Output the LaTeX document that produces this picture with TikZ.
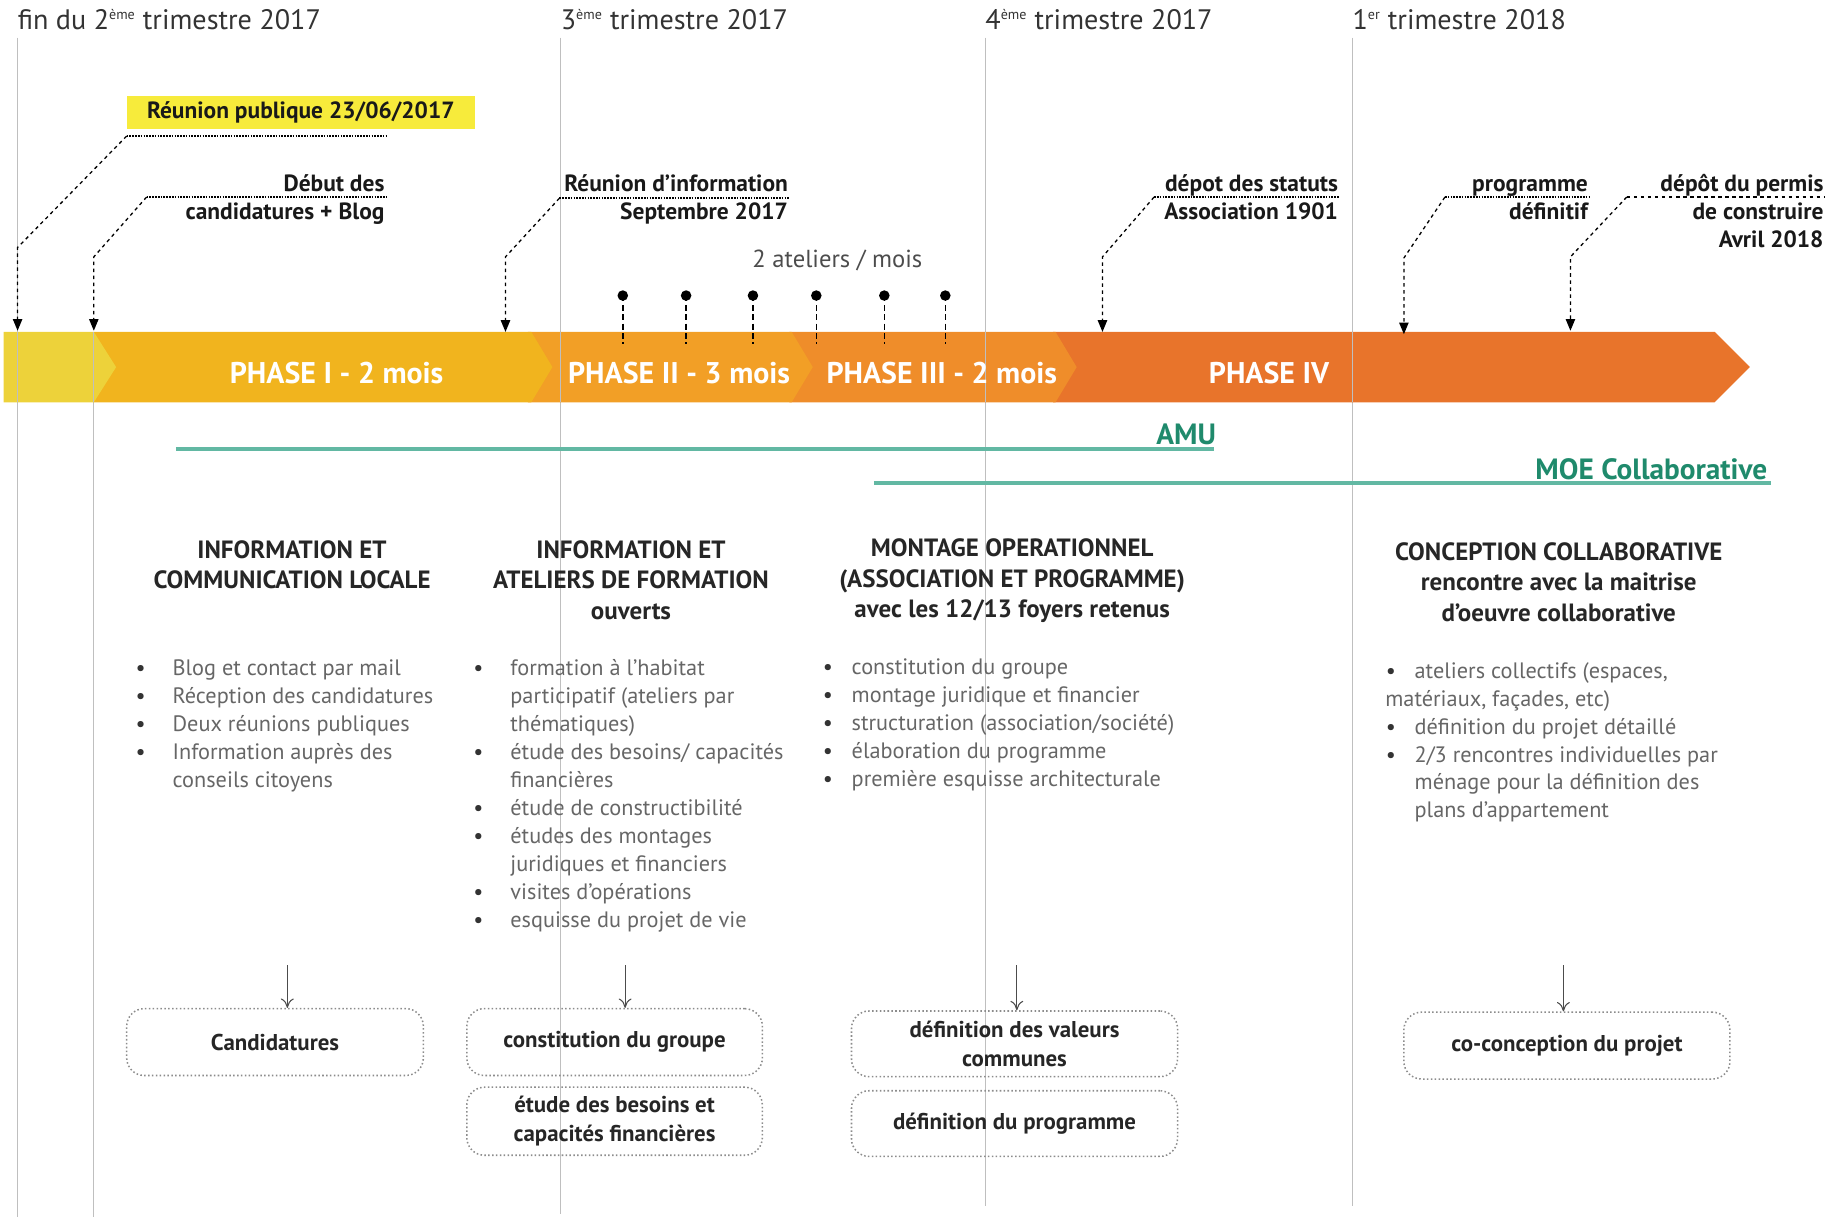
\documentclass[tikz,border=0pt]{standalone}
\usepackage{fontspec}
\setmainfont{PT Sans}
\usetikzlibrary{arrows.meta}
\definecolor{segA}{HTML}{EDD23A}
\definecolor{segB}{HTML}{F1B41E}
\definecolor{segC}{HTML}{F29F26}
\definecolor{segD}{HTML}{EF8D2A}
\definecolor{segE}{HTML}{E8742B}
\definecolor{hiyel}{HTML}{F7EB3B}
\definecolor{teal1}{HTML}{62B8A3}
\definecolor{teal2}{HTML}{1F8A6C}
\definecolor{bodygray}{HTML}{666666}
\newcommand\mysups[1]{\textsuperscript{\fontsize{12}{12}\selectfont #1}}
\begin{document}
\begin{tikzpicture}[x=1pt,y=-1pt,
  qline/.style={draw=black!25, line width=0.7pt},
  toplabel/.style={anchor=base west, font=\fontsize{24}{28}\selectfont, text=black!80, inner sep=0},
  evtxt/.style={anchor=north east, align=right, font=\bfseries\fontsize{20}{24}\selectfont, text=black!90, inner sep=0},
  under/.style={densely dotted, line width=1.4pt},
  callout/.style={dashed, line width=1.1pt, -{Triangle[width=8pt,length=10pt]}},
  phase/.style={text=white, font=\bfseries\fontsize{25.5}{28}\selectfont, inner sep=0},
  head/.style={align=center, font=\bfseries\fontsize{21.3}{26}\selectfont, text=black!85, anchor=north, inner sep=0},
  bul/.style={align=left, font=\fontsize{19}{23.8}\selectfont, text=bodygray, anchor=north west, inner sep=0},
  bulc/.style={align=center, font=\fontsize{19}{23.8}\selectfont, text=black!80, anchor=north, inner sep=0},
  res/.style={draw=black!45, dotted, line width=1.3pt, rounded corners=15pt, align=center, font=\bfseries\fontsize{19.5}{25}\selectfont, text=black!85, inner sep=0},
  down/.style={draw=black!70, line width=0.9pt, -{To[length=8pt,width=11pt]}},
  pin/.style={dashed, line width=1.3pt, dash pattern=on 5pt off 3pt},
  tealline/.style={draw=teal1, line width=3.5pt},
  teallab/.style={anchor=base east, text=teal2, font=\bfseries\fontsize{25}{28}\selectfont, inner sep=0}
]
\useasboundingbox (0,0) rectangle (1568,1038.5);

% quarter lines
\draw[qline] (15,32) -- (15,1038);
\draw[qline] (80,285) -- (80,1038);
\draw[qline] (478,32) -- (478,1035);
\draw[qline] (840,32) -- (840,1028);
\draw[qline] (1153,32) -- (1153,1028);

% top labels
\node[toplabel] (q2) at (15,25.5) {fin du 2\mysups{ème} trimestre 2017};
\node[toplabel] (q3) at (478,25.5) {3\mysups{ème} trimestre 2017};
\node[toplabel] (q4) at (840,25.5) {4\mysups{ème} trimestre 2017};
\node[toplabel] (q1) at (1153,25.5) {1\mysups{er} trimestre 2018};

% main arrow bar
\fill[segE] (898,283) -- (1462,283) -- (1492,313) -- (1462,343) -- (898,343) -- cycle;
\fill[segD] (673,283) -- (900,283) -- (918,313) -- (900,343) -- (673,343) -- cycle;
\fill[segC] (450,283) -- (675,283) -- (693,313) -- (675,343) -- (450,343) -- cycle;
\fill[segB] (80,283) -- (453,283) -- (471,313) -- (453,343) -- (80,343) -- cycle;
\fill[segA] (3,283) -- (80,283) -- (99,313) -- (80,343) -- (3,343) -- cycle;
\draw[qline] (15,283) -- (15,343);
\draw[qline] (80,283) -- (80,343);
\draw[qline] (478,283) -- (478,343);
\draw[qline] (840,283) -- (840,343);
\draw[qline] (1153,283) -- (1153,343);

\node[phase] (p1) at (287,318) {PHASE I - 2 mois};
\node[phase] (p2) at (579,318) {PHASE II - 3 mois};
\node[phase] (p3) at (803,318) {PHASE III - 2 mois};
\node[phase] (p4) at (1082,318) {PHASE IV};

% bar top targets
\coordinate (t1) at (15,282);
\coordinate (t2) at (80,282);
\coordinate (t3) at (431,283);
\coordinate (t4) at (940,283);
\coordinate (t5) at (1197,285);
\coordinate (t6) at (1339,282);

% events
\node[fill=hiyel, minimum width=297pt, minimum height=28pt, inner sep=0, font=\bfseries\fontsize{20}{24}\selectfont, text=black!90] (reu) at (256.5,96) {Réunion publique 23/06/2017};
\coordinate (u1a) at (108,116); \coordinate (u1b) at (330,116); \coordinate (e1) at (15,211);
\draw[under] (u1a) -- (u1b);
\draw[callout] (u1a) -- (e1) -- (t1);

\node[evtxt] (deb) at (328,146) {\strut Début des\\candidatures + Blog};
\coordinate (u2a) at (125,168); \coordinate (u2b) at (330,168); \coordinate (e2) at (80,219);
\draw[under] (u2a) -- (u2b);
\draw[callout] (u2a) -- (e2) -- (t2);

\node[evtxt] (rinf) at (672,146) {\strut Réunion d’information\\Septembre 2017};
\coordinate (u3a) at (477,169); \coordinate (u3b) at (673,169); \coordinate (e3) at (431,219);
\draw[under] (u3a) -- (u3b);
\draw[callout] (u3a) -- (e3) -- (t3);

\node[evtxt] (stat) at (1141,146) {\strut dépot des statuts\\Association 1901};
\coordinate (u4a) at (984,168); \coordinate (u4b) at (1142,168); \coordinate (e4) at (940,219);
\draw[under] (u4a) -- (u4b);
\draw[callout] (u4a) -- (e4) -- (t4);

\node[evtxt] (prog) at (1354,146) {\strut programme\\définitif};
\coordinate (u5a) at (1232,168); \coordinate (u5b) at (1355,168); \coordinate (e5) at (1197,220);
\draw[under] (u5a) -- (u5b);
\draw[callout] (u5a) -- (e5) -- (t5);

\node[evtxt] (perm) at (1555,146) {\strut dépôt du permis\\de construire\\Avril 2018};
\coordinate (u6a) at (1387,168); \coordinate (u6b) at (1556,168); \coordinate (e6) at (1339,219);
\draw[dashed, line width=1.4pt] (u6a) -- (u6b);
\draw[callout] (u6a) -- (e6) -- (t6);

% ateliers
\node[font=\fontsize{21}{25}\selectfont, text=black!70, inner sep=0] (atel) at (714,222) {2 ateliers / mois};
\foreach \x [count=\i] in {531,585,642,696,754,806}{
  \fill (\x,252) circle (4.5pt);
  \coordinate (pa\i) at (\x,252);
  \coordinate (pb\i) at (\x,293);
  \draw[pin] (pa\i) -- (pb\i);
}

% AMU / MOE
\coordinate (amua) at (150,383); \coordinate (amub) at (1035,383);
\draw[tealline] (amua) -- (amub);
\node[teallab] (amu) at (1037,379) {AMU};
\coordinate (moea) at (745,412); \coordinate (moeb) at (1510,412);
\draw[tealline] (moea) -- (moeb);
\node[teallab] (moe) at (1507,409) {MOE Collaborative};

% headings
\node[head] (h1) at (249,457.5) {\strut INFORMATION ET\\COMMUNICATION LOCALE};
\node[head] (h2) at (538,457.5) {\strut INFORMATION ET\\ATELIERS DE FORMATION\\ouverts};
\node[head] (h3) at (863,456.5) {\strut MONTAGE OPERATIONNEL\\(ASSOCIATION ET PROGRAMME)\\avec les 12/13 foyers retenus};
\node[head] (h4) at (1329,459.5) {\strut CONCEPTION COLLABORATIVE\\rencontre avec la maitrise\\d’oeuvre collaborative};

% bullets col1
\node[bulc] (b1) at (120,559.5) {\strut\textbullet\\\textbullet\\\textbullet\\\textbullet};
\node[bul] (l1) at (147,559.5) {\strut Blog et contact par mail\\Réception des candidatures\\Deux réunions publiques\\Information auprès des\\conseils citoyens};
% col2
\node[bulc] (b2) at (408,559.5) {\strut\textbullet\\ \\ \\\textbullet\\ \\\textbullet\\\textbullet\\ \\\textbullet\\\textbullet};
\node[bul] (l2) at (435,559.5) {\strut formation à l’habitat\\participatif (ateliers par\\thématiques)\\étude des besoins/ capacités\\financières\\étude de constructibilité\\études des montages\\juridiques et financiers\\visites d’opérations\\esquisse du projet de vie};
% col3
\node[bulc] (b3) at (706,558.5) {\strut\textbullet\\\textbullet\\\textbullet\\\textbullet\\\textbullet};
\node[bul] (l3) at (726,558.5) {\strut constitution du groupe\\montage juridique et financier\\structuration (association/société)\\élaboration du programme\\première esquisse architecturale};
% col4
\node[bulc] (b4) at (1186,561.5) {\strut\textbullet\\ \\\textbullet\\\textbullet};
\node[bul] (l4a) at (1206,561.5) {\strut ateliers collectifs (espaces,};
\node[bul] (l4b) at (1181,585.3) {\strut matériaux, façades, etc)};
\node[bul] (l4c) at (1206,609.1) {\strut définition du projet détaillé\\2/3 rencontres individuelles par\\ménage pour la définition des\\plans d’appartement};

% result boxes
\node[res, minimum width=253pt, minimum height=57pt] (r1) at (234.5,888.5) {Candidatures};
\node[res, minimum width=252pt, minimum height=57pt] (r2) at (524,888.5) {constitution du groupe};
\node[res, minimum width=252pt, minimum height=58pt] (r3) at (524,956) {étude des besoins et\\capacités financières};
\node[res, minimum width=278pt, minimum height=56pt] (r4) at (865,890) {définition des valeurs\\communes};
\node[res, minimum width=278pt, minimum height=56pt] (r5) at (865,958) {définition du programme};
\node[res, minimum width=278pt, minimum height=57pt] (r6) at (1336,891.5) {co-conception du projet};

\coordinate (d1) at (245,823);
\coordinate (d2) at (533,823);
\coordinate (d3) at (867,823);
\coordinate (d4) at (1333,823);
\draw[down] (d1) -- (d1 |- r1.north);
\draw[down] (d2) -- (d2 |- r2.north);
\draw[down] (d3) -- (d3 |- r4.north);
\draw[down] (d4) -- (d4 |- r6.north);
\end{tikzpicture}
\end{document}
